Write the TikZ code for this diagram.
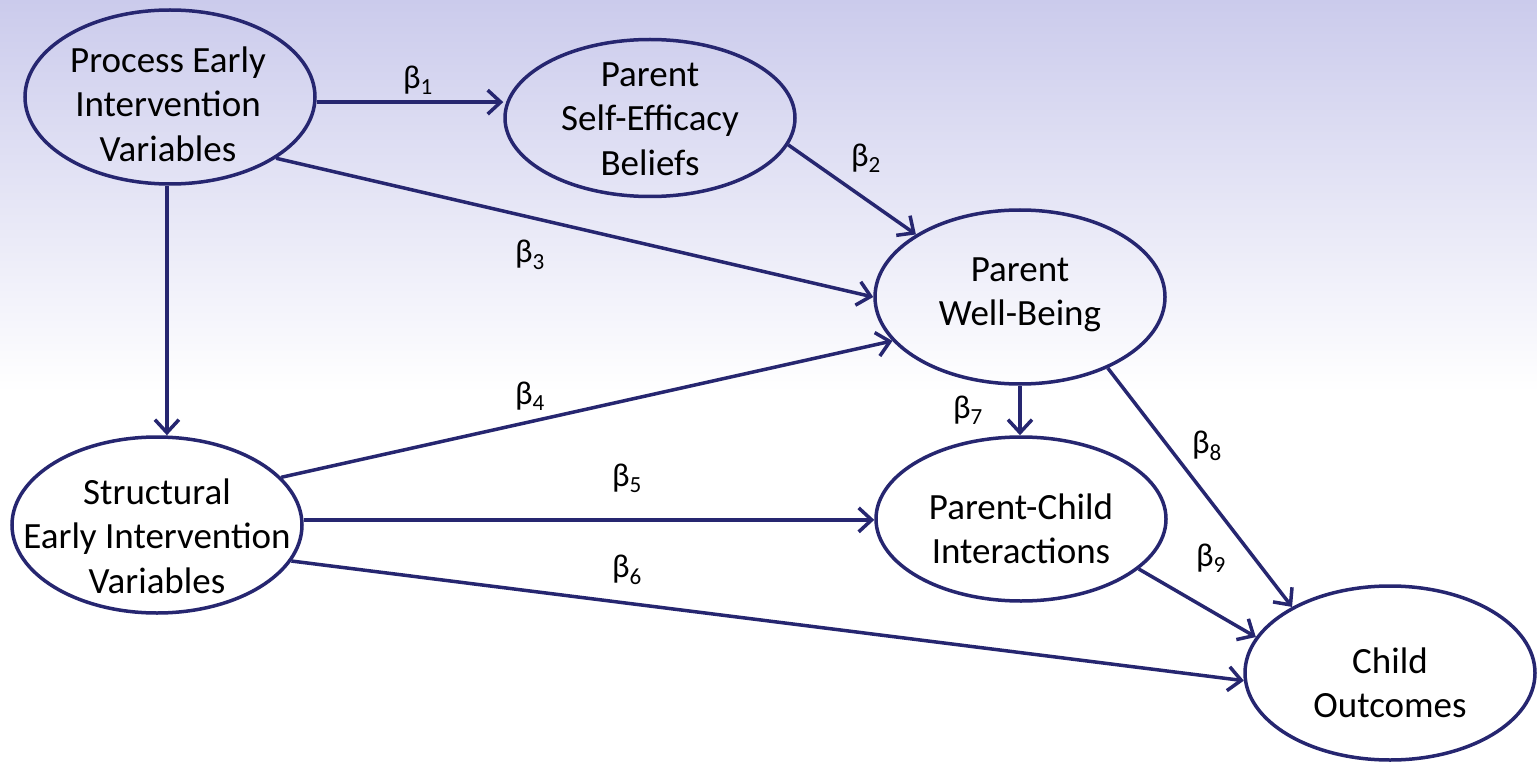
\documentclass[tikz,border=0pt]{standalone}
\usepackage{fontspec}
\setmainfont{Carlito}
\usetikzlibrary{shapes.geometric,arrows.meta}
\definecolor{navy}{RGB}{38,38,112}
\definecolor{lav}{RGB}{203,203,236}
\begin{document}
\begin{tikzpicture}[x=1pt,y=-1pt,
  var/.style={ellipse,draw=navy,line width=3.5pt,minimum width=290pt,minimum height=174pt,inner sep=0pt},
  vtext/.style={align=center,inner sep=0pt,font=\fontsize{37}{44.5}\selectfont},
  path/.style={draw=navy,line width=3.5pt,-{Straight Barb[length=13pt,width=24pt,line width=3.5pt]}},
  coef/.style={font=\fontsize{33}{44}\selectfont,inner sep=0pt}]
\useasboundingbox (0,0) rectangle (1537,762);
\fill[white] (0,0) rectangle (1537,762);
\shade[top color=lav,bottom color=white] (0,0) rectangle (1537,392);
\node[var] (proc) at (170,97) {};
\node[var,minimum height=157pt] (eff) at (650,118) {};
\node[var] (wb) at (1020,297) {};
\node[var,minimum height=176pt] (struct) at (157,525) {};
\node[var,minimum height=164pt] (pc) at (1021,519) {};
\node[var] (co) at (1390,673) {};
\node[vtext] (procT) at (168,104) {Process Early\\Intervention\\Variables};
\node[vtext] (effT) at (650,119) {Parent\\Self-Efficacy\\Beliefs};
\node[vtext] (wbT) at (1020,295) {Parent\\Well-Being};
\node[vtext] (structT) at (157,536) {Structural\\Early Intervention\\Variables};
\node[vtext] (pcT) at (1021,529) {Parent-Child\\Interactions};
\node[vtext] (coT) at (1390,683) {Child\\Outcomes};
\draw[path] (proc.-2) -- (proc.-2 -| eff.west);
\draw[path] (eff.-11.5) -- (wb.149);
\draw[path] (proc.-30.5) -- (wb.west);
\draw[path] (proc.-92) -- (proc.-92 |- struct.north);
\draw[path] (struct.21.4) -- (wb.199);
\draw[path] (struct.2) -- (struct.2 -| pc.west);
\draw[path] (struct.-15) -- (co.183.5);
\draw[path] (wb.south) -- (wb.south |- pc.north);
\draw[path] (wb.-39) -- (co.146);
\draw[path] (pc.-23) -- (co.165);
\node[coef] (b1) at (418,80) {β\textsubscript{1}};
\node[coef] (b2) at (866,158) {β\textsubscript{2}};
\node[coef] (b3) at (530,255) {β\textsubscript{3}};
\node[coef] (b4) at (530,396) {β\textsubscript{4}};
\node[coef] (b5) at (627,478) {β\textsubscript{5}};
\node[coef] (b6) at (627,570) {β\textsubscript{6}};
\node[coef] (b7) at (968,410) {β\textsubscript{7}};
\node[coef] (b8) at (1207,446) {β\textsubscript{8}};
\node[coef] (b9) at (1211,558) {β\textsubscript{9}};
\end{tikzpicture}
\end{document}
